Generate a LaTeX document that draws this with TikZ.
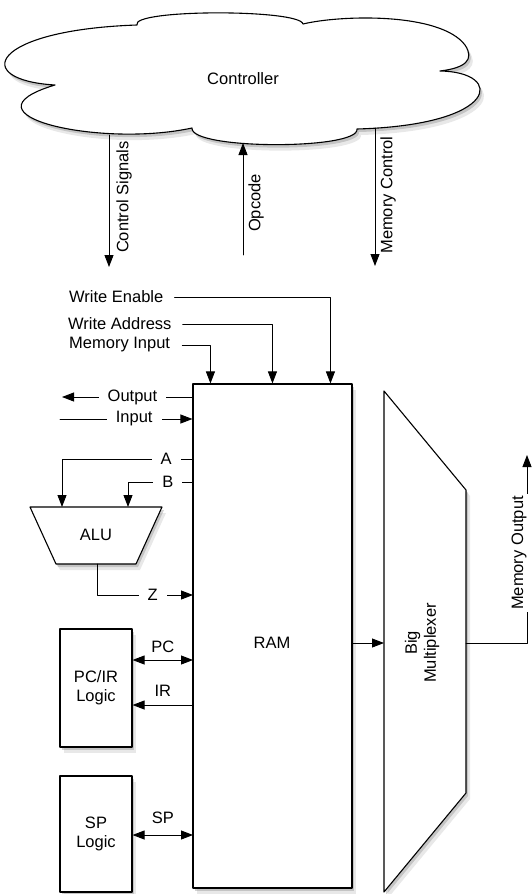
\documentclass[tikz,border=0pt]{standalone}
\usepackage{fontspec}
\setmainfont{Liberation Sans}
\usetikzlibrary{positioning,shadows,arrows.meta}

\begin{document}
\begin{tikzpicture}[x=1pt, y=-1pt, line cap=round, line join=round,
    every node/.style={inner sep=2pt, font=\fontsize{16.5}{19}\selectfont},
    wire/.style={line width=0.9pt},
    sig/.style={wire, -{Triangle[length=12pt, width=9pt]}},
    both/.style={wire, {Triangle[length=12pt, width=9pt]}-{Triangle[length=12pt, width=9pt]}},
    gap/.style={fill=white, inner xsep=9pt},
    block/.style={draw, line width=1.1pt, fill=white,
        drop shadow={shadow xshift=4pt, shadow yshift=-6pt, opacity=0.18},
        drop shadow={shadow xshift=2pt, shadow yshift=-3pt, opacity=0.35}},
    logic/.style={block, minimum width=72pt, align=center}]

\useasboundingbox (0,0) rectangle (531,894);

% controller cloud
\draw[block] (55,85) .. controls (-30,80) and (-10,30) .. (137,25)
    .. controls (130,9) and (300,9) .. (303,24)
    .. controls (340,15) and (440,12) .. (465,45)
    .. controls (475,60) and (465,68) .. (440,71)
    .. controls (505,72) and (500,125) .. (357,129)
    .. controls (360,150) and (190,150) .. (192,128)
    .. controls (100,148) and (-45,115) .. (55,85) -- cycle;
\node (ctrl) at (243,79) {Controller};

\coordinate (csout) at (109,135);
\coordinate (csend) at (109,267);
\coordinate (opbeg) at (243,255);
\coordinate (opin) at (243,143);
\coordinate (mcout) at (375,128);
\coordinate (mcend) at (375,266);

\draw[sig] (csout) -- (csend);
\draw[sig] (opbeg) -- (opin);
\draw[sig] (mcout) -- (mcend);
\node[rotate=90] (cslbl) at (124,197) {Control Signals};
\node[rotate=90] (oplbl) at (256,203) {Opcode};
\node[rotate=90] (mclbl) at (388,195) {Memory Control};

% memory
\node[block, minimum width=159pt, minimum height=504pt] (ram) at (272.5,636) {};
\node (ramlbl) at (272,643) {RAM};

\node[anchor=west] (wen) at (67,297) {Write Enable};
\node[anchor=west] (wad) at (66,324) {Write Address};
\node[anchor=west] (memin) at (67,345) {Memory Input};
\draw[sig] ([xshift=9pt]wen.east) -| ([xshift=138pt]ram.north west);
\draw[sig] ([xshift=9pt]wad.east) -| ([xshift=80pt]ram.north west);
\draw[sig] ([xshift=10pt]memin.east) -| ([xshift=18pt]ram.north west);

\coordinate (outend) at (62,397);
\coordinate (inbeg) at (60,419);
\draw[sig] (ram.west |- outend) -- node[gap, pos=0.46] (outlbl) {Output} (outend);
\draw[sig] (inbeg) -- node[gap, pos=0.56] (inlbl) {Input} (ram.west |- inbeg);

% alu
\draw[block] (30,507) -- (162,507) -- (136,564) -- (56,564) -- cycle;
\node (alu) at (96,535) {ALU};
\coordinate (alua) at (62,507);
\coordinate (alub) at (128,507);
\coordinate (aluz) at (97,564);
\coordinate (rama) at (193,459);
\coordinate (ramb) at (193,482);
\coordinate (ramz) at (193,595);

\draw[sig] (rama) -- node[gap, pos=0.206] (albl) {A} (rama -| alua) -- (alua);
\draw[sig] (ramb) -- node[gap, pos=0.385] (blbl) {B} (ramb -| alub) -- (alub);
\draw[sig] (aluz) |- node[gap, pos=0.79] (zlbl) {Z} (ramz);

% pc/ir and sp
\node[logic, minimum height=118pt] (pcir) at (96,688) {PC/IR\\Logic};
\node[logic, minimum height=116pt] (splog) at (96,834) {SP\\Logic};

\coordinate (rampc) at (193,660);
\coordinate (ramir) at (193,705);
\coordinate (ramsp) at (193,835);
\draw[both] (pcir.east |- rampc) -- node[above=5pt] (pclbl) {PC} (rampc);
\draw[sig] (ramir) -- node[above=6pt] (irlbl) {IR} (pcir.east |- ramir);
\draw[both] (splog.east |- ramsp) -- node[above=9pt] (splbl) {SP} (ramsp);

% multiplexer
\draw[block] (384,391) -- (466,490) -- (466,793) -- (384,892) -- cycle;
\node[rotate=90, align=center] (mux) at (422,643) {Big\\Multiplexer};
\coordinate (muxin) at (384,643);
\coordinate (muxout) at (466,643);
\coordinate (memout) at (527,455);
\draw[sig] (ram.east |- muxin) -- (muxin);
\draw[sig] (muxout) -| (memout);
\node[rotate=90, fill=white] (molbl) at (519,553) {Memory Output};

\end{tikzpicture}
\end{document}
